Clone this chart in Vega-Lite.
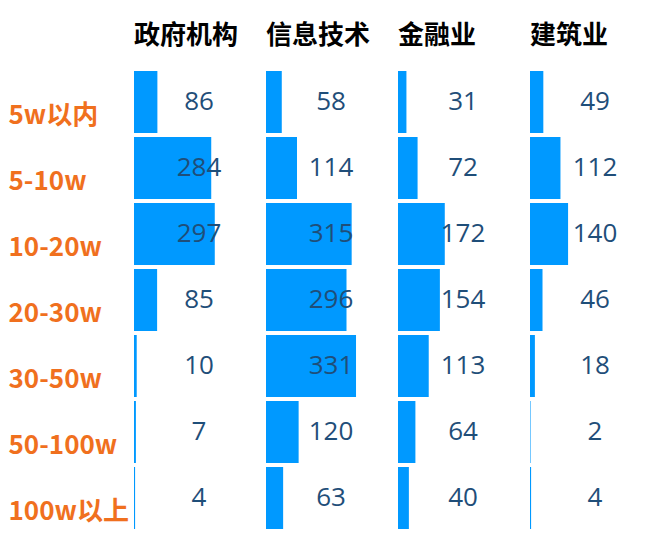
{
  "$schema": "https://vega.github.io/schema/vega-lite/v6.json",
  "padding": {"left": 8, "top": 23, "right": 0, "bottom": 0},
  "background": "white",
  "data": {"values": [
    {"industry": "政府机构", "range": "5w以内", "value": 86},
    {"industry": "政府机构", "range": "5-10w", "value": 284},
    {"industry": "政府机构", "range": "10-20w", "value": 297},
    {"industry": "政府机构", "range": "20-30w", "value": 85},
    {"industry": "政府机构", "range": "30-50w", "value": 10},
    {"industry": "政府机构", "range": "50-100w", "value": 7},
    {"industry": "政府机构", "range": "100w以上", "value": 4},
    {"industry": "信息技术", "range": "5w以内", "value": 58},
    {"industry": "信息技术", "range": "5-10w", "value": 114},
    {"industry": "信息技术", "range": "10-20w", "value": 315},
    {"industry": "信息技术", "range": "20-30w", "value": 296},
    {"industry": "信息技术", "range": "30-50w", "value": 331},
    {"industry": "信息技术", "range": "50-100w", "value": 120},
    {"industry": "信息技术", "range": "100w以上", "value": 63},
    {"industry": "金融业", "range": "5w以内", "value": 31},
    {"industry": "金融业", "range": "5-10w", "value": 72},
    {"industry": "金融业", "range": "10-20w", "value": 172},
    {"industry": "金融业", "range": "20-30w", "value": 154},
    {"industry": "金融业", "range": "30-50w", "value": 113},
    {"industry": "金融业", "range": "50-100w", "value": 64},
    {"industry": "金融业", "range": "100w以上", "value": 40},
    {"industry": "建筑业", "range": "5w以内", "value": 49},
    {"industry": "建筑业", "range": "5-10w", "value": 112},
    {"industry": "建筑业", "range": "10-20w", "value": 140},
    {"industry": "建筑业", "range": "20-30w", "value": 46},
    {"industry": "建筑业", "range": "30-50w", "value": 18},
    {"industry": "建筑业", "range": "50-100w", "value": 2},
    {"industry": "建筑业", "range": "100w以上", "value": 4}
  ]},
  "facet": {
    "column": {
      "field": "industry", "type": "nominal",
      "sort": ["政府机构", "信息技术", "金融业", "建筑业"],
      "title": null,
      "header": {
        "labelFontSize": 26, "labelFont": "Noto Sans CJK SC", "labelFontWeight": "bold",
        "labelColor": "#000000", "labelAnchor": "start", "labelAlign": "left",
        "labelPadding": 20, "labelOrient": "top",
        "labelExpr": "'\u00a0' + datum.label"
      }
    }
  },
  "spacing": 2,
  "spec": {
    "width": 130,
    "height": 462,
    "encoding": {
      "y": {
        "field": "range", "type": "nominal",
        "sort": ["5w以内", "5-10w", "10-20w", "20-30w", "30-50w", "50-100w", "100w以上"],
        "scale": {"paddingInner": 0.06, "paddingOuter": 0.03},
        "axis": {
          "title": null, "ticks": false, "domain": false,
          "labelAlign": "left", "labelPadding": 126,
          "labelFontSize": 26, "labelFont": "Noto Sans CJK SC", "labelFontWeight": "bold",
          "labelColor": "#F0701E", "labelOffset": 14, "labelLimit": 200
        }
      }
    },
    "layer": [
      {
        "mark": {"type": "bar", "color": "#0099FF"},
        "encoding": {
          "x": {"field": "value", "type": "quantitative", "scale": {"domain": [0, 478], "nice": false, "zero": true}, "axis": null}
        }
      },
      {
        "mark": {"type": "text", "fontSize": 26, "font": "Open Sans", "color": "#1F4E79", "baseline": "middle", "align": "center"},
        "encoding": {
          "x": {"datum": 239, "type": "quantitative"},
          "text": {"field": "value", "type": "quantitative"}
        }
      }
    ]
  },
  "config": {"view": {"stroke": null}}
}
